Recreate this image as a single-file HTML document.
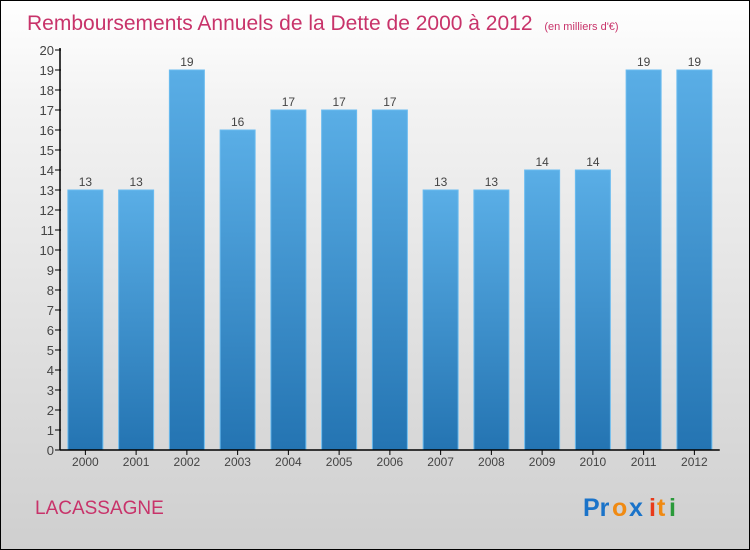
<!DOCTYPE html>
<html><head><meta charset="utf-8"><style>
body{margin:0;}
#c{position:relative;width:748px;height:548px;border:1px solid #000;background:linear-gradient(#fff,#f2f2f2 20%,#cfcfcf);font-family:"Liberation Sans",sans-serif;overflow:hidden}
</style></head><body>
<div id="c">
<svg width="748" height="548">
<defs><linearGradient id="bg" x1="0" y1="0" x2="0" y2="1"><stop offset="0" stop-color="#5aaee6"/><stop offset="1" stop-color="#2474b2"/></linearGradient></defs>
<text x="26" y="29" font-size="21" fill="#c8336a">Remboursements Annuels de la Dette de 2000 à 2012 <tspan font-size="11" dx="6">(en milliers d'€)</tspan></text>
<g id="plot"></g>
<text x="34" y="513" font-size="19" fill="#c8336a">LACASSAGNE</text>
<g font-size="25" font-weight="bold">
<text x="582" y="515" fill="#1a73c9">Pr</text><text x="612" y="515" fill="#2a9a3a" font-size="0">r</text>
<text x="611" y="515" fill="#f08a12">o</text><text x="628" y="515" fill="#1a73c9">x</text><text x="648" y="515" fill="#e83a1a">i</text><text x="656" y="515" fill="#f08a12">t</text><text x="668" y="515" fill="#2a9a3a">i</text></g>
</svg></div>
<script>
const categories=["2000","2001","2002","2003","2004","2005","2006","2007","2008","2009","2010","2011","2012"];
const values=[13,13,19,16,17,17,17,13,13,14,14,19,19];
const yTicks=[0,1,2,3,4,5,6,7,8,9,10,11,12,13,14,15,16,17,18,19,20];
const ns="http://www.w3.org/2000/svg";
const g=document.getElementById("plot");
const x0=59,slot=50.75,y0=449,yMax=20,ph=400,bw=35;
const y=v=>y0-v/yMax*ph;
const xc=i=>x0+slot*(i+0.5);
function mk(t,a,p){const e=document.createElementNS(ns,t);for(const k in a)e.setAttribute(k,a[k]);(p||g).appendChild(e);return e;}
yTicks.forEach(t=>{
 const l=mk("line",{x1:x0-5,x2:x0+1,y1:y(t),y2:y(t),stroke:"#000"});
 
 
 const tx=mk("text",{x:x0-6,y:y(t)+5,"font-size":13,fill:"#444","text-anchor":"end"});
 tx.textContent=t;
 
 
});
values.forEach((v,i)=>{
 const r=mk("rect",{x:xc(i)-bw/2,y:y(v),width:bw,height:y0-y(v),fill:"url(#bg)",stroke:"#6bbcf0","stroke-width":1});
 
 
 const vl=mk("text",{x:xc(i),y:y(v)-4,"font-size":12,fill:"#444","text-anchor":"middle"});
 vl.textContent=v;
 
 
 const tk=mk("line",{x1:xc(i),x2:xc(i),y1:y0,y2:y0+5,stroke:"#000"});
 
 
 const cl=mk("text",{x:xc(i),y:y0+16,"font-size":12,fill:"#444","text-anchor":"middle"});
 cl.textContent=categories[i];
 
 
});
const ya=mk("line",{x1:x0,x2:x0,y1:y(yMax)-2,y2:y0,stroke:"#000","stroke-width":1.5});


const xa=mk("line",{x1:x0,x2:x0+slot*categories.length,y1:y0,y2:y0,stroke:"#000","stroke-width":1.5});


</script>
</body></html>
